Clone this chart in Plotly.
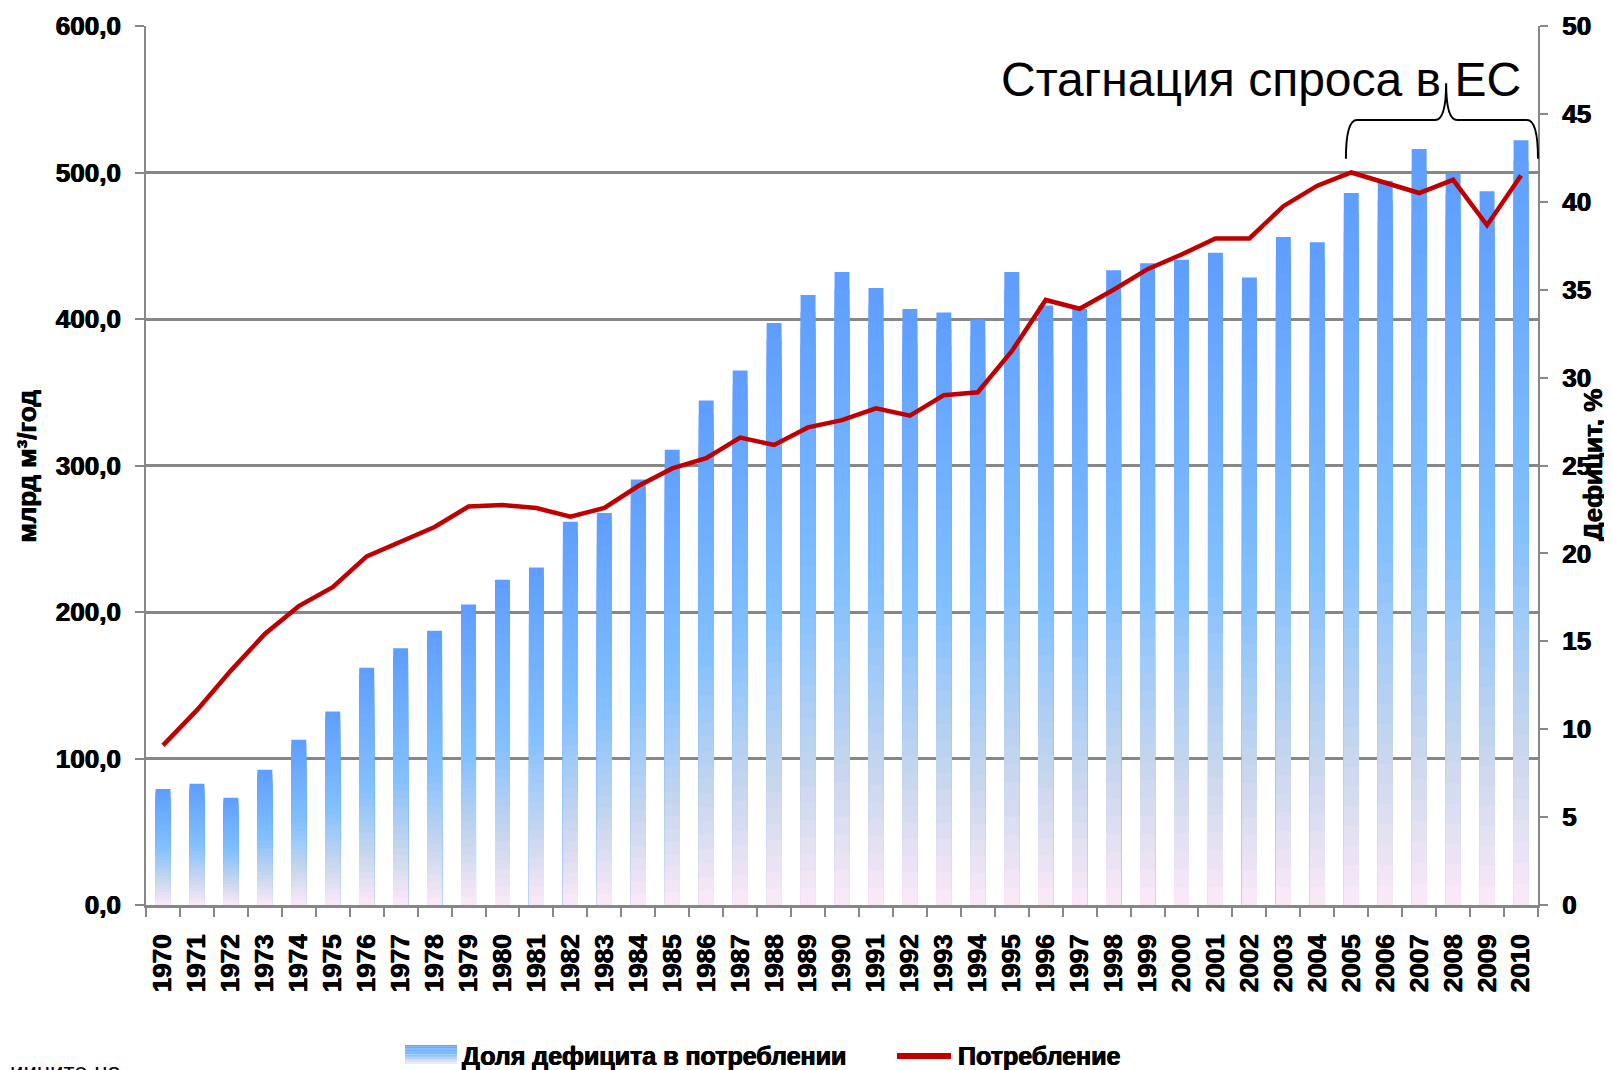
import plotly.graph_objects as go

years = ["1970", "1971", "1972", "1973", "1974", "1975", "1976", "1977", "1978", "1979",
         "1980", "1981", "1982", "1983", "1984", "1985", "1986", "1987", "1988", "1989",
         "1990", "1991", "1992", "1993", "1994", "1995", "1996", "1997", "1998", "1999",
         "2000", "2001", "2002", "2003", "2004", "2005", "2006", "2007", "2008", "2009", "2010"]

deficit_share = [6.6, 6.9, 6.1, 7.7, 9.4, 11.0, 13.5, 14.6, 15.6, 17.1,
                 18.5, 19.2, 21.8, 22.3, 24.2, 25.9, 28.7, 30.4, 33.1, 34.7,
                 36.0, 35.1, 33.9, 33.7, 33.3, 36.0, 34.1, 33.9, 36.1, 36.5,
                 36.7, 37.1, 35.7, 38.0, 37.7, 40.5, 41.2, 43.0, 41.6, 40.6, 43.5]

consumption = [109, 133, 160, 185, 204, 217, 238, 248, 258, 272,
               273, 271, 265, 271, 286, 298, 305, 319, 314, 326,
               331, 339, 334, 348, 350, 378, 413, 407, 420, 434,
               444, 455, 455, 477, 491, 500, 493, 486, 495, 464, 498]

left_ticks = [0, 100, 200, 300, 400, 500, 600]
right_ticks = [0, 5, 10, 15, 20, 25, 30, 35, 40, 45, 50]

bar_name = "Доля дефицита в потреблении"
line_name = "Потребление"

# gradient stops (fraction from bar top -> bar bottom)
stops = [(0.0, (94, 157, 255)), (0.5, (130, 192, 255)), (0.78, (198, 214, 237)), (1.0, (252, 233, 248))]


def grad(t):
    for (t0, c0), (t1, c1) in zip(stops[:-1], stops[1:]):
        if t <= t1:
            f = (t - t0) / (t1 - t0)
            return "rgb(%d,%d,%d)" % tuple(round(a + (b - a) * f) for a, b in zip(c0, c1))
    return "rgb(%d,%d,%d)" % stops[-1][1]


FONT = "Liberation Sans, Arial, sans-serif"
SHADOW = "0.6px 0 0 black, -0.4px 0 0 black"
fig = go.Figure()
N = 36
for k in range(N):
    frac = 1 - k / N
    fig.add_trace(go.Bar(
        x=years, y=[v * frac for v in deficit_share], yaxis="y",
        marker=dict(color=grad((k + 0.5) / N), line=dict(width=0)),
        name=bar_name, showlegend=False, legendgroup="def",
        hoverinfo="skip" if k else None,
    ))

fig.add_trace(go.Scatter(
    x=years, y=consumption, yaxis="y2", mode="lines",
    line=dict(color="#C00000", width=4.5),
    name=line_name, showlegend=False,
))

tickfont = dict(family=FONT, size=26, color="black", weight="bold", shadow=SHADOW)
gray = "#878787"

fig.update_layout(
    width=1604, height=1062,
    margin=dict(l=138, r=74, t=18, b=165, autoexpand=False),
    paper_bgcolor="white", plot_bgcolor="white",
    separators=", ",
    barmode="overlay", bargap=0.56,
    showlegend=False,
    xaxis=dict(type="category", tickangle=-90, ticks="outside", tickson="boundaries",
               ticklen=9, tickwidth=2, tickcolor=gray, showline=True, linecolor=gray, linewidth=3,
               showgrid=False, tickfont=tickfont, ticklabelstandoff=16, automargin=False),
    yaxis=dict(side="right", range=[0, 50], tickvals=right_ticks, ticks="outside", ticklen=8,
               tickwidth=2, tickcolor=gray, showline=True, linecolor=gray, linewidth=2,
               showgrid=False, zeroline=False, tickfont=tickfont, ticklabelstandoff=9, automargin=False),
    yaxis2=dict(side="left", overlaying="y", range=[0, 600], tickvals=left_ticks, tickformat=".1f",
                ticks="outside", ticklen=9, tickwidth=2, tickcolor=gray, showline=True, linecolor=gray,
                linewidth=2, showgrid=True, gridcolor=gray, gridwidth=2.5, zeroline=False,
                tickfont=tickfont, ticklabelstandoff=9, automargin=False),
)

# brace over 2005-2010
xl, xr, xt = 0.862, 1.0, 0.934
yh, ye, yt = 0.893, 0.849, 0.935
dx = 0.008
path = (f"M {xl},{ye} Q {xl},{yh} {xl+dx},{yh} L {xt-dx},{yh} Q {xt},{yh} {xt},{yt} "
        f"Q {xt},{yh} {xt+dx},{yh} L {xr-dx},{yh} Q {xr},{yh} {xr},{ye}")
fig.add_shape(type="path", path=path, xref="paper", yref="paper",
              line=dict(color="black", width=2))

fig.add_annotation(text="Стагнация спроса в ЕС", xref="paper", yref="paper",
                   x=0.9895, y=0.9386, xanchor="right", yanchor="middle", showarrow=False,
                   font=dict(family=FONT, size=48, color="black"))

fig.add_annotation(text="млрд м³/год", xref="paper", yref="paper", x=-0.0855, y=0.5,
                   xanchor="center", yanchor="middle", textangle=-90, showarrow=False,
                   font=dict(family=FONT, size=26, color="black", weight="bold", shadow=SHADOW))

fig.add_annotation(text="Дефицит, %", xref="paper", yref="paper", x=1.0392, y=0.5,
                   xanchor="center", yanchor="middle", textangle=-90, showarrow=False,
                   font=dict(family=FONT, size=26, color="black", weight="bold", shadow=SHADOW))

fig.add_annotation(text="иините на", xref="paper", yref="paper", x=-0.0991, y=-0.1718,
                   xanchor="left", yanchor="top", showarrow=False,
                   font=dict(family=FONT, size=24, color="black"))

# legend (drawn manually to match the wide gradient / line keys)
lg_y = -0.1718
rx0, rx1, ry0, ry1 = 0.1861, 0.2234, -0.1809, -0.1593
S = 12
for i in range(S):
    t = (i + 0.5) / S
    fig.add_shape(type="rect", xref="paper", yref="paper", x0=rx0, x1=rx1,
                  y0=ry1 - (ry1 - ry0) * (i + 1) / S, y1=ry1 - (ry1 - ry0) * i / S,
                  fillcolor=grad(t), line=dict(width=0))
fig.add_annotation(text=bar_name, xref="paper", yref="paper", x=0.2256, y=lg_y,
                   xanchor="left", yanchor="middle", showarrow=False,
                   font=dict(family=FONT, size=25, color="black", weight="bold", shadow=SHADOW))
fig.add_shape(type="line", xref="paper", yref="paper", x0=0.5395, x1=0.5783, y0=lg_y, y1=lg_y,
              line=dict(color="#C00000", width=6))
fig.add_annotation(text=line_name, xref="paper", yref="paper", x=0.5819, y=lg_y,
                   xanchor="left", yanchor="middle", showarrow=False,
                   font=dict(family=FONT, size=25, color="black", weight="bold", shadow=SHADOW))

fig.write_html("out.html")
